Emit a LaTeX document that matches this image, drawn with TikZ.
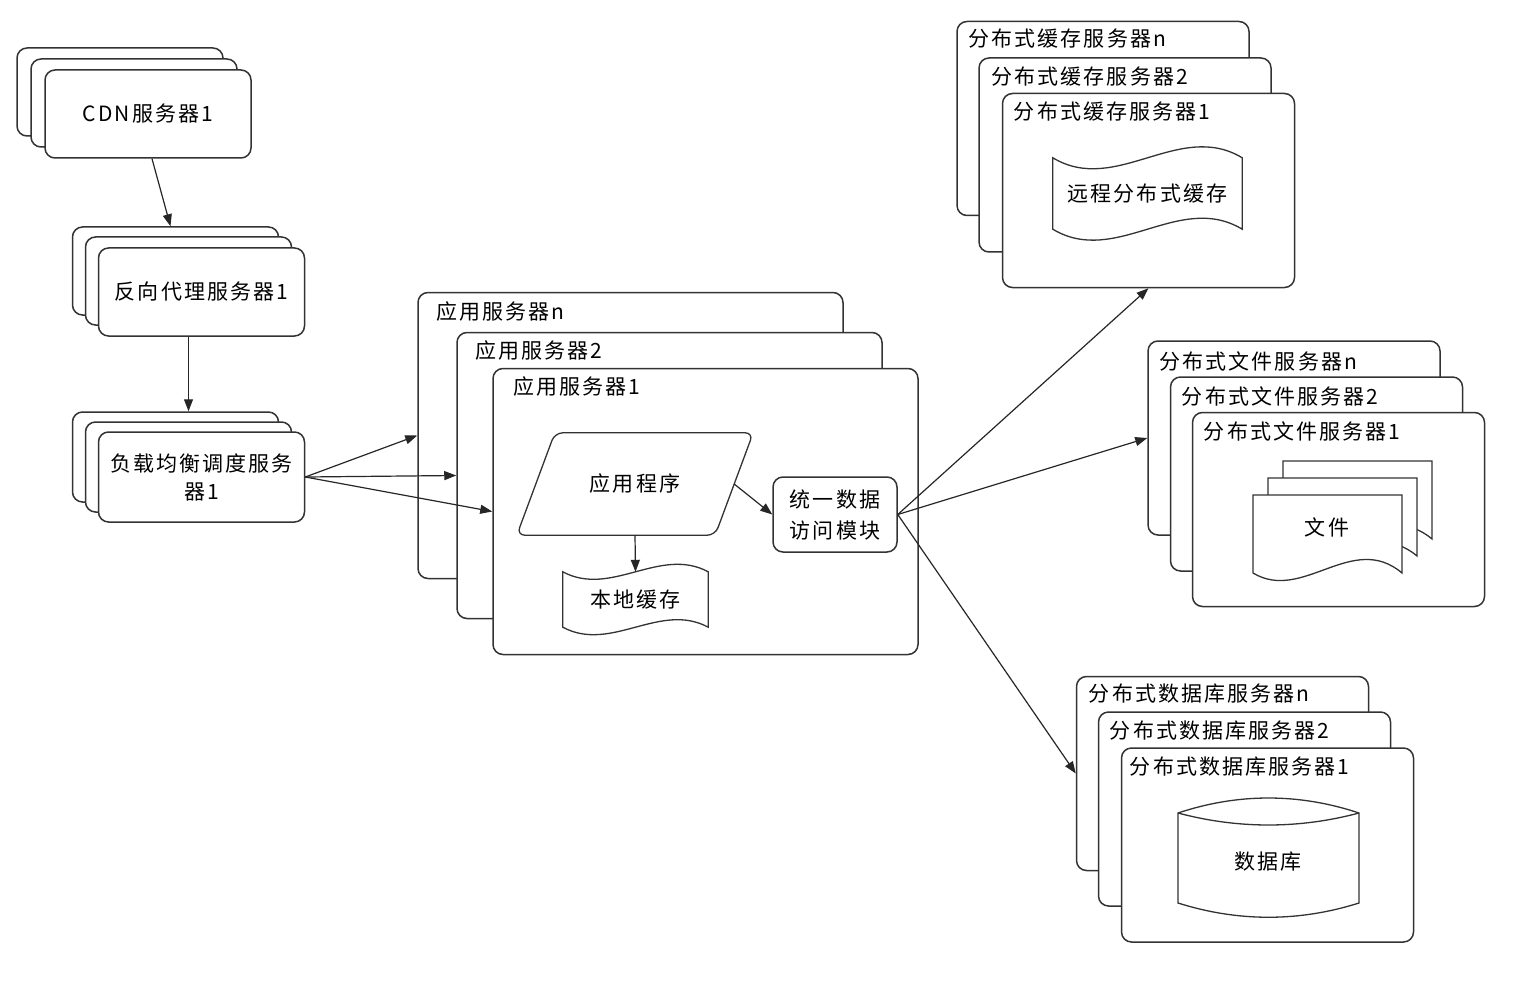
\documentclass[tikz,border=0pt]{standalone}
\usepackage{fontspec}
\setmainfont{Noto Sans CJK SC}[LetterSpace=10]
\usetikzlibrary{arrows.meta}

\begin{document}
\begin{tikzpicture}[
    x=1pt, y=-1pt,
    every node/.style={font=\fontsize{21}{28}\selectfont},
    srv/.style={
        draw=black!80,
        line width=1.5pt,
        fill=white,
        rounded corners=10pt,
        minimum width=206pt,
        minimum height=88pt,
        align=center
    },
    bigsrv/.style={srv, minimum width=425pt, minimum height=286pt},
    dsrv/.style={srv, minimum width=292pt, minimum height=194pt},
    srvtitle/.style={anchor=west, inner sep=0pt},
    shapeline/.style={draw=black!80, line width=1.3pt, fill=white},
    arrow/.style={-{Triangle[length=12pt,width=9pt]}, line width=1.2pt, black!85}
]

\useasboundingbox (0,0) rectangle (1530,992);

% Column 1: CDN
\node[srv] (cdn3) at (120,92) {};
\node[srv] (cdn2) at (134,103) {};
\node[srv] (cdn1) at (148,114) {CDN服务器1};

% Column 1: reverse proxy
\node[srv] (proxy3) at (175.5,271) {};
\node[srv] (proxy2) at (188.5,281) {};
\node[srv] (proxy1) at (201.5,292) {反向代理服务器1};

% Column 1: load balancer
\node[srv, minimum height=90pt] (lb3) at (175.5,457) {};
\node[srv, minimum height=90pt] (lb2) at (188.5,467) {};
\node[srv, minimum height=90pt] (lb1) at (201.5,477) {负载均衡调度服务\\器1};

% Column 2: application servers
\node[bigsrv] (appn) at (630.5,435.5) {};
\node[srvtitle] (appnt) at ([shift={(19,20)}]appn.north west) {应用服务器n};
\node[bigsrv] (app2) at (669.5,475.5) {};
\node[srvtitle] (app2t) at ([shift={(19,19)}]app2.north west) {应用服务器2};
\node[bigsrv] (app1) at (705.5,511.5) {};
\node[srvtitle] (app1t) at ([shift={(21,19)}]app1.north west) {应用服务器1};

% inside app server 1
\node[minimum width=198pt, minimum height=102pt, inner sep=0pt] (prog) at (635,484) {应用程序};
\draw[shapeline, fill=none, rounded corners=8pt] ([xshift=19pt]prog.north west) -- ([xshift=19pt]prog.north east)
    -- ([xshift=-19pt]prog.south east) -- ([xshift=-19pt]prog.south west) -- cycle;

\node[minimum width=145pt, minimum height=55pt, inner sep=0pt] (lcache) at (635.5,599.5) {本地缓存};
\draw[shapeline, fill=none] (lcache.north west) .. controls +(48.3,26) and +(-48.3,-26) .. (lcache.north east)
    -- (lcache.south east) .. controls +(-48.3,-26) and +(48.3,26) .. (lcache.south west) -- cycle;

\node[srv, minimum width=124pt, minimum height=75pt, font=\fontsize{21}{31}\selectfont] (mod) at (835,514.5) {统一数据\\访问模块};

% Column 3: distributed cache
\node[dsrv] (cachen) at (1103,118.5) {};
\node[srvtitle] (cachent) at ([shift={(12,18)}]cachen.north west) {分布式缓存服务器n};
\node[dsrv] (cache2) at (1125,155) {};
\node[srvtitle] (cache2t) at ([shift={(13,19)}]cache2.north west) {分布式缓存服务器2};
\node[dsrv] (cache1) at (1148.5,190.5) {};
\node[srvtitle] (cache1t) at ([shift={(12,19)}]cache1.north west) {分布式缓存服务器1};

\node[minimum width=189pt, minimum height=71pt, inner sep=0pt] (rcache) at (1147.5,193.5) {远程分布式缓存};
\draw[shapeline, fill=none] (rcache.north west) .. controls +(63,38) and +(-63,-38) .. (rcache.north east)
    -- (rcache.south east) .. controls +(-63,-38) and +(63,38) .. (rcache.south west) -- cycle;

% Column 3: distributed files
\node[dsrv] (filen) at (1294,438) {};
\node[srvtitle] (filent) at ([shift={(12,21)}]filen.north west) {分布式文件服务器n};
\node[dsrv] (file2) at (1316.5,474) {};
\node[srvtitle] (file2t) at ([shift={(12,20)}]file2.north west) {分布式文件服务器2};
\node[dsrv] (file1) at (1338.5,509.5) {};
\node[srvtitle] (file1t) at ([shift={(12,20)}]file1.north west) {分布式文件服务器1};

\draw[shapeline] (1283,461) -- ++(149,0) -- ++(0,78) .. controls +(-49.7,-42) and +(49.7,30) .. ++(-149,0) -- cycle;
\draw[shapeline] (1268,478) -- ++(149,0) -- ++(0,78) .. controls +(-49.7,-42) and +(49.7,30) .. ++(-149,0) -- cycle;
\draw[shapeline] (1253,495) -- ++(149,0) -- ++(0,78) .. controls +(-49.7,-42) and +(49.7,30) .. ++(-149,0) -- cycle;
\node (files) at (1327,527) {文件};

% Column 3: distributed database
\node[dsrv] (dbn) at (1222.5,773.5) {};
\node[srvtitle] (dbnt) at ([shift={(13,18)}]dbn.north west) {分布式数据库服务器n};
\node[dsrv] (db2) at (1244.5,809) {};
\node[srvtitle] (db2t) at ([shift={(12,19)}]db2.north west) {分布式数据库服务器2};
\node[dsrv] (db1) at (1267.5,845) {};
\node[srvtitle] (db1t) at ([shift={(9,19)}]db1.north west) {分布式数据库服务器1};

\draw[shapeline] (1178,813) .. controls (1238,793) and (1299,793) .. (1359,813) -- (1359,903)
    .. controls (1299,922) and (1238,922) .. (1178,903) -- cycle;
\draw[shapeline, fill=none] (1178,813) .. controls (1238,829) and (1299,829) .. (1359,813);
\node (dbase) at (1268,862) {数据库};

% === ARROWS ===

% CDN -> proxy -> load balancer
\draw[arrow] ([xshift=4pt]cdn1.south) -- ([xshift=-5pt]proxy3.north);
\draw[arrow] (proxy2.south |- proxy1.south) -- (lb3.north -| proxy2.south);

% load balancer -> app servers
\draw[arrow] (lb1.east) -- (appn.west);
\draw[arrow] (lb1.east) -- (app2.west);
\draw[arrow] (lb1.east) -- (app1.west);

% inside app server
\draw[arrow] (prog.south) -- (lcache.north);
\draw[arrow] (prog.east) -- (mod.west);

% data access -> storage
\draw[arrow] (mod.east) -- (cache1.south);
\draw[arrow] (mod.east) -- (filen.west);
\draw[arrow] (mod.east) -- (dbn.west);

\end{tikzpicture}
\end{document}
